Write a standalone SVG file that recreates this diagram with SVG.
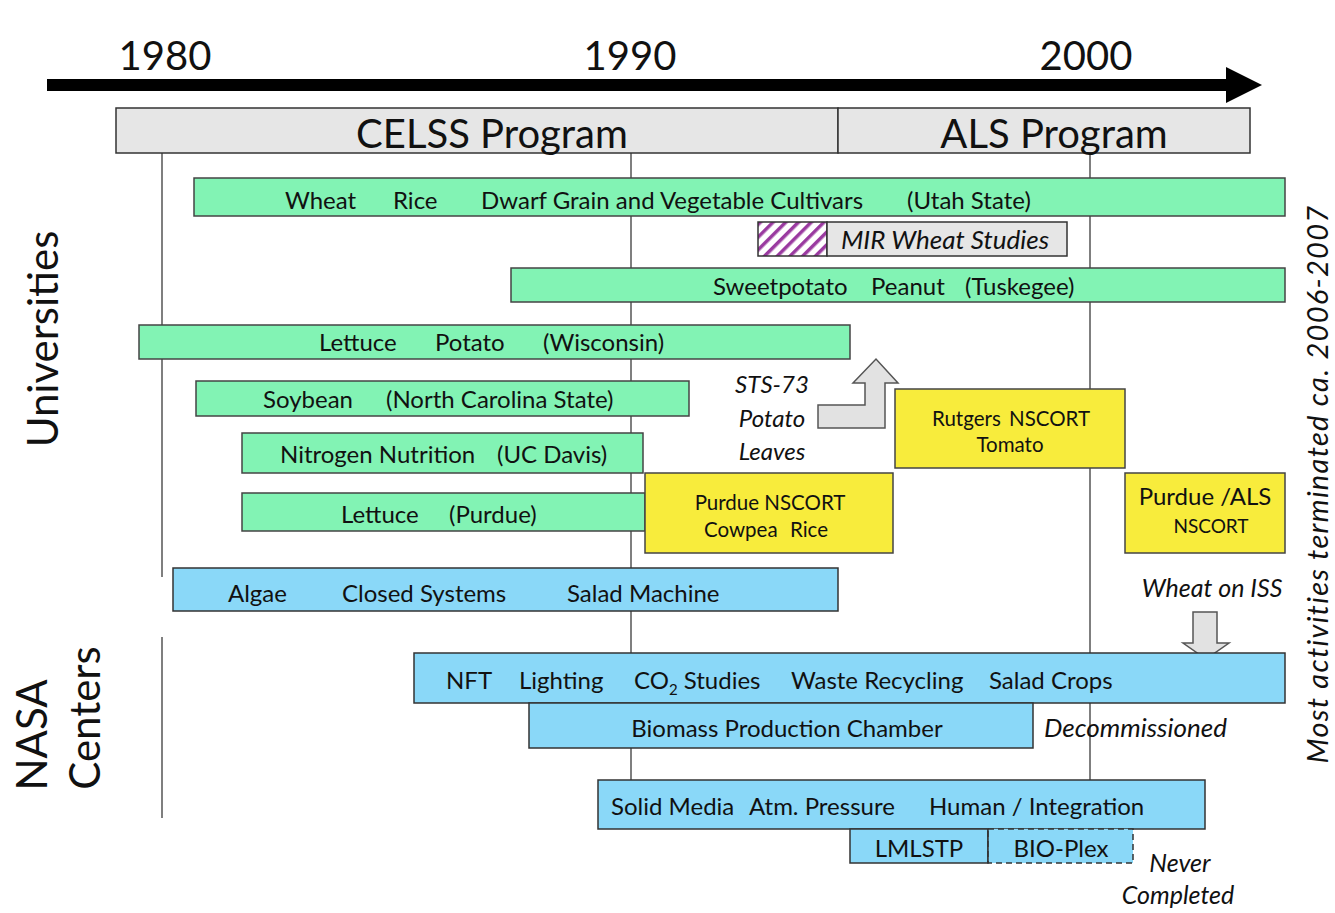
<svg xmlns="http://www.w3.org/2000/svg" width="1335" height="913" viewBox="0 0 1335 913">
<style>
text{font-family:Lato,"Liberation Sans",sans-serif;fill:#111}
.t{font-size:24px}
.s{font-size:20.5px}
.i{font-style:italic}
.yr{font-size:40px}
.prog{font-size:40px}
.side{font-size:42px}
.g{fill:#82f3b4;stroke:#444;stroke-width:1.5}
.b{fill:#8ad8f8;stroke:#333;stroke-width:1.5}
.y{fill:#f8ec3c;stroke:#444;stroke-width:1.5}
.gr{fill:#e6e6e6;stroke:#333;stroke-width:1.5}
.grid{stroke:#555;stroke-width:1.5;fill:none}
.c{text-anchor:middle}
</style>
<defs>
<pattern id="hatch" patternUnits="userSpaceOnUse" width="9" height="9" patternTransform="rotate(45)">
<rect width="9" height="9" fill="#fff"/>
<rect width="3.5" height="9" fill="#9a3aa0"/>
</pattern>
</defs>
<rect width="1335" height="913" fill="#fff"/>

<g id="gridlines">
<line class="grid" x1="631" y1="153" x2="631" y2="800"/>
<line class="grid" x1="1090" y1="153" x2="1090" y2="790"/>
<line class="grid" x1="162" y1="153" x2="162" y2="577"/>
<line class="grid" x1="162" y1="637" x2="162" y2="818"/>
</g>

<g id="timeline">
<rect x="47" y="79" width="1183" height="12" fill="#000"/>
<polygon points="1226,67 1262,85 1226,103" fill="#000"/>
<text class="yr c" x="165" y="70">1980</text>
<text class="yr c" x="630" y="70">1990</text>
<text class="yr c" x="1086" y="70">2000</text>
</g>

<g id="programs">
<rect class="gr" x="116" y="108" width="722" height="45"/>
<rect class="gr" x="838" y="108" width="412" height="45"/>
<text class="prog c" x="492" y="148">CELSS Program</text>
<text class="prog c" x="1054" y="148">ALS Program</text>
</g>

<g id="utah">
<rect class="g" x="194" y="178" width="1091" height="38"/>
<text class="t" y="209"><tspan x="285">Wheat</tspan><tspan x="393">Rice</tspan><tspan x="481">Dwarf Grain and Vegetable Cultivars</tspan><tspan x="907">(Utah State)</tspan></text>
</g>

<g id="mir">
<rect x="758" y="222" width="69" height="34" fill="url(#hatch)" stroke="#333" stroke-width="1.5"/>
<rect class="gr" x="827" y="222" width="240" height="34"/>
<text class="i c" font-size="26" x="945" y="249">MIR Wheat Studies</text>
</g>

<g id="tuskegee">
<rect class="g" x="511" y="268" width="774" height="34"/>
<text class="t" y="295"><tspan x="713">Sweetpotato</tspan><tspan x="871">Peanut</tspan><tspan x="965">(Tuskegee)</tspan></text>
</g>

<g id="wisconsin">
<rect class="g" x="139" y="325" width="711" height="34"/>
<text class="t" y="351"><tspan x="319">Lettuce</tspan><tspan x="435">Potato</tspan><tspan x="543">(Wisconsin)</tspan></text>
</g>

<g id="ncstate">
<rect class="g" x="196" y="381" width="493" height="35"/>
<text class="t" y="408"><tspan x="263">Soybean</tspan><tspan x="386">(North Carolina State)</tspan></text>
</g>

<g id="ucdavis">
<rect class="g" x="242" y="433" width="401" height="40"/>
<text class="t" y="463"><tspan x="280">Nitrogen Nutrition</tspan><tspan x="497">(UC Davis)</tspan></text>
</g>

<g id="purdue">
<rect class="g" x="242" y="493" width="403" height="38"/>
<text class="t" y="523"><tspan x="341">Lettuce</tspan><tspan x="449">(Purdue)</tspan></text>
</g>

<g id="purdue-nscort">
<rect class="y" x="645" y="473" width="248" height="80"/>
<text class="s c" x="770" y="510">Purdue NSCORT</text>
<text class="s" y="537"><tspan x="704">Cowpea</tspan><tspan x="790">Rice</tspan></text>
</g>

<g id="rutgers">
<rect class="y" x="895" y="389" width="230" height="79"/>
<text class="s" y="426"><tspan x="932">Rutgers</tspan><tspan x="1009">NSCORT</tspan></text>
<text class="s c" x="1010" y="452">Tomato</text>
</g>

<g id="purdue-als">
<rect class="y" x="1125" y="473" width="160" height="80"/>
<text class="t c" x="1205" y="505">Purdue /ALS</text>
<text class="c" font-size="19" x="1211" y="533">NSCORT</text>
</g>

<g id="sts73">
<polygon points="818,405 865,405 865,383 853,383 876,359 898,383 885,383 885,428 818,428" fill="#e2e2e2" stroke="#555" stroke-width="1.5"/>
<text class="t i c" x="772" y="393">STS-73</text>
<text class="t i c" x="772" y="427">Potato</text>
<text class="t i c" x="772" y="460">Leaves</text>
</g>

<g id="algae">
<rect class="b" x="173" y="568" width="665" height="43"/>
<text class="t" y="602"><tspan x="228">Algae</tspan><tspan x="342">Closed Systems</tspan><tspan x="567">Salad Machine</tspan></text>
</g>

<g id="wheat-iss">
<text class="i c" font-size="25" x="1212" y="597">Wheat on ISS</text>
<polygon points="1193,612 1217,612 1217,643 1229,643 1206,659 1183,643 1193,643" fill="#e2e2e2" stroke="#555" stroke-width="1.5"/>
</g>

<g id="nft">
<rect class="b" x="414" y="653" width="871" height="50"/>
<text class="t" y="689"><tspan x="446">NFT</tspan><tspan x="519">Lighting</tspan><tspan x="634">CO</tspan><tspan font-size="15" dy="6">2</tspan><tspan dy="-6"> Studies</tspan><tspan x="791">Waste Recycling</tspan><tspan x="989">Salad Crops</tspan></text>
</g>

<g id="bpc">
<rect class="b" x="529" y="703" width="504" height="45"/>
<text class="t c" x="787" y="737">Biomass Production Chamber</text>
<text class="i" font-size="26" x="1044" y="737">Decommissioned</text>
</g>

<g id="solid-media">
<rect class="b" x="598" y="780" width="607" height="49"/>
<text class="t" y="815"><tspan x="611">Solid Media</tspan><tspan x="749">Atm. Pressure</tspan><tspan x="929">Human / Integration</tspan></text>
</g>

<g id="lmlstp">
<rect class="b" x="850" y="829" width="138" height="34"/>
<text class="t c" x="919" y="857">LMLSTP</text>
</g>

<g id="bioplex">
<rect x="988" y="829" width="145" height="34" fill="#8ad8f8" stroke="#333" stroke-width="1.5" stroke-dasharray="6,4"/>
<line x1="988" y1="829" x2="988" y2="863" stroke="#333" stroke-width="1.5"/>
<text class="t c" x="1061" y="857">BIO-Plex</text>
<text class="i c" font-size="25" x="1180" y="872">Never</text>
<text class="i c" font-size="25" x="1178" y="904">Completed</text>
</g>

<g id="labels">
<text transform="translate(58,339) rotate(-90)" class="c side">Universities</text>
<text transform="translate(47,735) rotate(-90)" class="c side">NASA</text>
<text transform="translate(100,718) rotate(-90)" class="c side">Centers</text>
<text transform="translate(1328,484) rotate(-90)" class="c i" font-size="29" letter-spacing="1.3">Most activities terminated ca. 2006-2007</text>
</g>
</svg>
